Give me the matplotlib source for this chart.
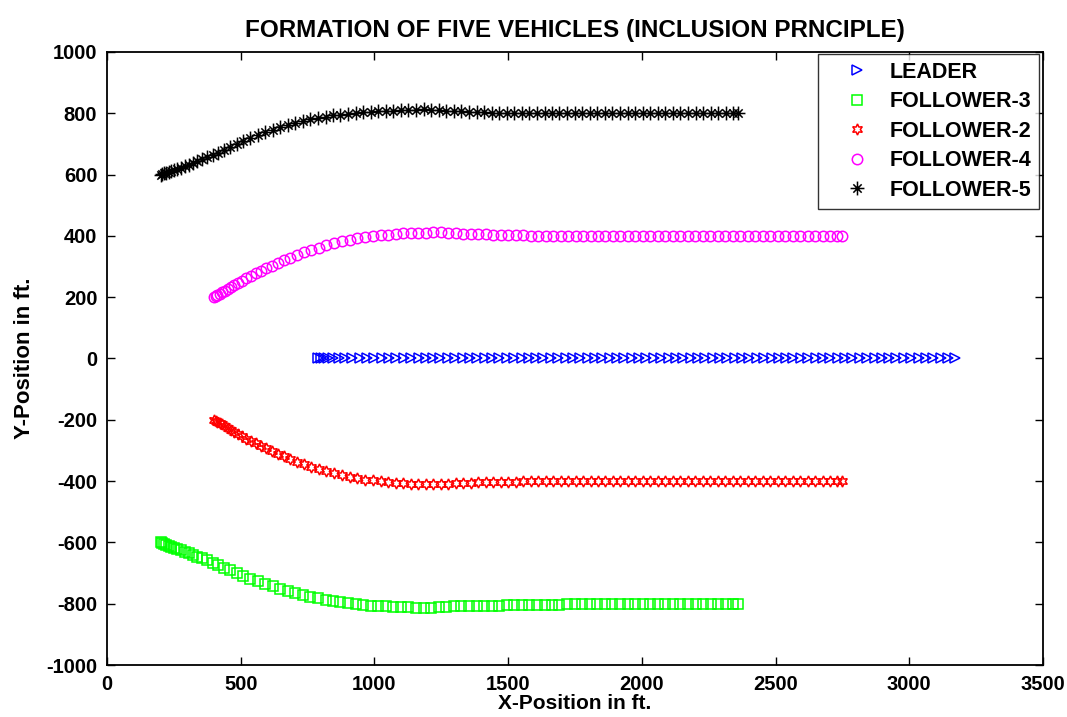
import matplotlib
matplotlib.use("Agg")
import matplotlib.pyplot as plt
from matplotlib.path import Path

# ---------------- data ----------------
leader_x = [790, 800, 812, 827, 845, 866, 890, 917, 945, 972, 1000, 1027, 1055, 1082, 1110, 1137,
            1165, 1192, 1220, 1247, 1275, 1302, 1330, 1357, 1385, 1412, 1440, 1467, 1495, 1522,
            1550, 1577, 1605, 1632, 1660, 1687, 1715, 1742, 1770, 1797, 1825, 1852, 1880, 1907,
            1935, 1962, 1990, 2017, 2045, 2072, 2100, 2127, 2155, 2182, 2210, 2237, 2265, 2292,
            2320, 2347, 2375, 2402, 2430, 2457, 2485, 2512, 2540, 2567, 2595, 2622, 2650, 2677,
            2705, 2732, 2760, 2787, 2815, 2842, 2870, 2897, 2925, 2952, 2980, 3007, 3035, 3062,
            3090, 3117, 3145, 3172]
leader_y = [0] * len(leader_x)

f5_x = [200, 206, 213, 221, 230, 240, 251, 263, 276, 290, 305, 321, 338, 356, 375, 395, 416, 438,
        461, 485, 510, 536, 563, 591, 619, 647, 675, 704, 732, 760, 788, 817, 845, 873, 901, 930,
        958, 986, 1014, 1043, 1071, 1099, 1127, 1156, 1184, 1212, 1240, 1269, 1297, 1325, 1353,
        1382, 1410, 1438, 1466, 1495, 1523, 1551, 1579, 1608, 1636, 1664, 1692, 1721, 1749, 1777,
        1805, 1834, 1862, 1890, 1918, 1947, 1975, 2003, 2031, 2060, 2088, 2116, 2144, 2173, 2201,
        2229, 2257, 2286, 2314, 2342, 2360]
f5_y = [600, 602, 604, 606, 609, 612, 615, 619, 623, 627, 632, 637, 643, 650, 657, 664, 672, 681,
        691, 701, 711, 720, 729, 738, 746, 755, 762, 769, 775, 780, 785, 789, 793, 796, 799, 801,
        803, 805, 807, 808, 809, 810, 810, 811, 813, 812, 810, 808, 807, 806, 805,
        804, 803, 802, 802, 801, 800, 800, 800, 800, 800, 800, 800, 800, 800, 800,
        800, 800, 800, 800, 800, 800, 800, 800, 800, 800, 800, 800, 800, 800, 800,
        800, 800, 800, 800, 800, 800]

f3_x = list(f5_x)
f3_y = [-600, -603, -606, -609, -612, -615, -618, -622, -626, -630, -635, -640, -646, -652, -659,
        -666, -674, -682, -691, -700, -709, -718, -727, -735, -743, -751, -758, -765, -771, -777,
        -782, -787, -791, -795, -799, -802, -805, -807, -808, -809, -810, -811, -812, -813, -814,
        -814, -812, -810, -809, -808, -808, -807, -807, -806, -806, -805, -805, -805, -804, -804,
        -803, -803, -803, -802, -801, -800, -800, -800, -800, -800, -800, -800, -800, -800, -800,
        -800, -800, -800, -800, -800, -800, -800, -800, -800, -800, -800, -800]

f4_x = [400, 406, 413, 421, 430, 440, 451, 463, 476, 490, 505, 521, 538, 556, 575, 595, 616, 638,
        661, 685, 710, 736, 763, 791, 820, 849, 878, 907, 936, 965, 994, 1023, 1052, 1080, 1108,
        1136, 1164, 1192, 1220, 1248, 1276, 1304, 1332, 1360, 1388, 1416, 1444, 1472, 1500, 1528,
        1556, 1584, 1612, 1640, 1668, 1696, 1724, 1752, 1780, 1808, 1836, 1864, 1892, 1920, 1948,
        1976, 2004, 2032, 2060, 2088, 2116, 2144, 2172, 2200, 2228, 2256, 2284, 2312, 2340, 2368,
        2396, 2424, 2452, 2480, 2508, 2536, 2564, 2592, 2620, 2648, 2676, 2704, 2728, 2748]
f4_y = [200, 203, 207, 211, 216, 221, 227, 233, 240, 247, 254, 262, 270, 278, 286, 294, 302, 311,
        320, 329, 338, 346, 354, 362, 369, 376, 382, 387, 392, 396, 399, 402, 404, 406, 408,
        409, 410, 411, 412, 412, 411, 409, 407, 406, 405, 405, 404, 404, 403, 403,
        402, 401, 400, 400, 400, 400, 400, 400, 400, 400, 400, 400, 400, 400, 400,
        400, 400, 400, 400, 400, 400, 400, 400, 400, 400, 400, 400, 400, 400, 400,
        400, 400, 400, 400, 400, 400, 400, 400, 400, 400, 400, 400, 400, 400]

f2_x = list(f4_x)
f2_y = [-200, -203, -206, -210, -215, -220, -226, -232, -239, -246, -253, -261, -269, -277, -285,
        -293, -301, -310, -319, -328, -337, -345, -353, -361, -368, -375, -381, -386, -391, -395,
        -398, -401, -403, -405, -407, -408, -409, -410, -410, -409, -408, -407, -406, -405, -404,
        -404, -403, -403, -402, -402, -401, -401, -400, -400, -400, -400, -400, -400, -400, -400,
        -400, -400, -400, -400, -400, -400, -400, -400, -400, -400, -400, -400, -400, -400, -400,
        -400, -400, -400, -400, -400, -400, -400, -400, -400, -400, -400, -400, -400, -400, -400,
        -400, -400, -400, -400]

labels = ["LEADER", "FOLLOWER-3", "FOLLOWER-2", "FOLLOWER-4", "FOLLOWER-5"]
title = "FORMATION OF FIVE VEHICLES (INCLUSION PRNCIPLE)"
xticks = [0, 500, 1000, 1500, 2000, 2500, 3000, 3500]
yticks = [-1000, -800, -600, -400, -200, 0, 200, 400, 600, 800, 1000]

# ---------------- style ----------------
plt.rcParams['font.family'] = ['Liberation Sans', 'DejaVu Sans']
plt.rcParams['font.weight'] = 'bold'
plt.rcParams['axes.unicode_minus'] = False

fig = plt.figure(figsize=(10.67, 7.17), dpi=100)
ax = fig.add_axes([0.1003, 0.0725, 0.8772, 0.855])

# MATLAB-like asterisk marker
ast = Path([(-1, 0), (1, 0), (0, -1), (0, 1), (-0.6, -0.6), (0.6, 0.6), (-0.6, 0.6), (0.6, -0.6)],
           [Path.MOVETO, Path.LINETO] * 4)

common = dict(linestyle='none', markerfacecolor='none', markeredgewidth=1.1)
ax.plot(leader_x, leader_y, marker='>', markersize=7, markeredgecolor='#0000ff', label=labels[0], **common)
ax.plot(f3_x, f3_y, marker='s', markersize=7.2, markeredgecolor='#00ff00', label=labels[1], **common)
ax.plot(f2_x, f2_y, marker=(6, 1, 0), markersize=8, markeredgecolor='#ff0000', label=labels[2], **common)
ax.plot(f4_x, f4_y, marker='o', markersize=7.5, markeredgecolor='#ff00ff', label=labels[3], **common)
ax.plot(f5_x, f5_y, marker=ast, markersize=10, markeredgecolor='#000000', label=labels[4], **common)

ax.set_xlim(0, 3500)
ax.set_ylim(-1000, 1000)
ax.set_xticks(xticks)
ax.set_yticks(yticks)
ax.tick_params(direction='in', length=6, width=1, top=True, right=True, labelsize=14.5, pad=7)
for lab in ax.get_xticklabels() + ax.get_yticklabels():
    lab.set_fontweight('bold')
for s in ax.spines.values():
    s.set_linewidth(1.3)

ax.set_title(title, fontsize=17.5, fontweight='bold', pad=11)
ax.set_xlabel("X-Position in ft.", fontsize=15, fontweight='bold', labelpad=0)
ax.set_ylabel("Y-Position in ft.", fontsize=16, fontweight='bold', labelpad=8)

leg = ax.legend(loc='upper right', bbox_to_anchor=(0.9957, 0.9967), borderaxespad=0,
                fontsize=15.5, frameon=True, fancybox=False, edgecolor='black',
                labelspacing=0.4, handletextpad=0.0, borderpad=0.35, handlelength=3.0)
leg.get_frame().set_linewidth(1.0)
for t in leg.get_texts():
    t.set_fontweight('bold')

fig.savefig("out.png", dpi=100)
